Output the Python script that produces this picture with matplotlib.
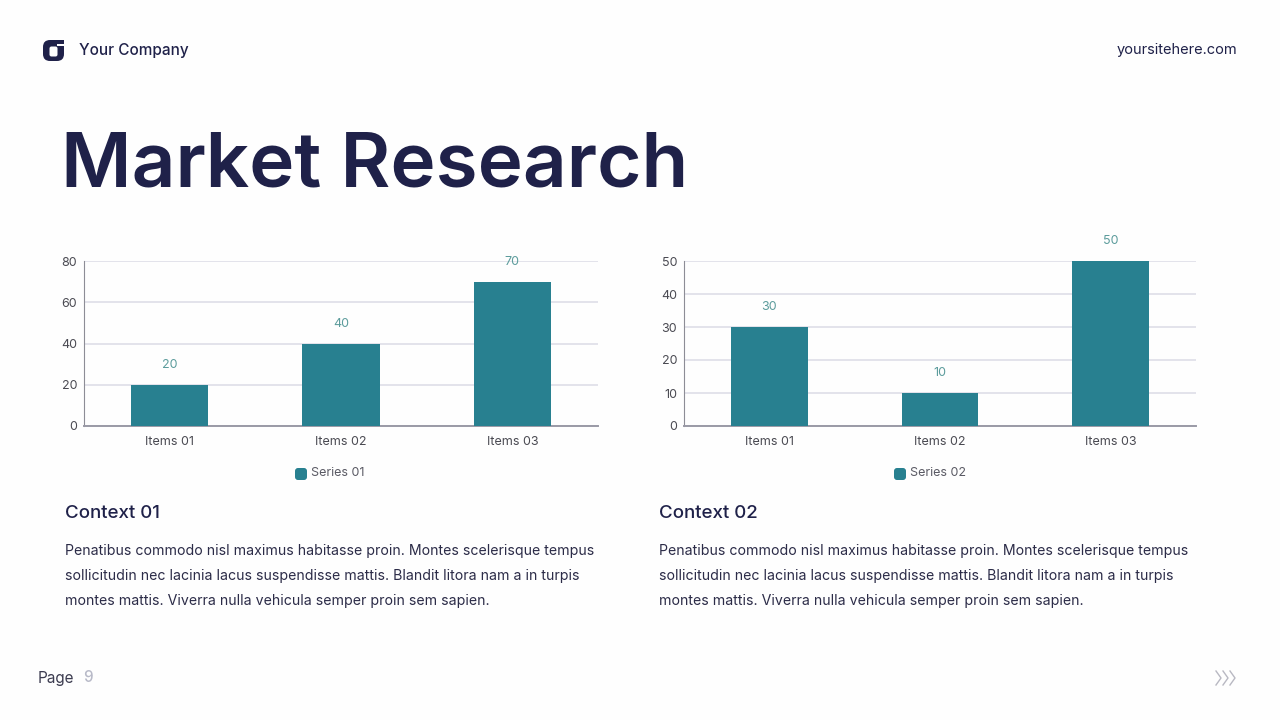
import matplotlib
matplotlib.use("Agg")
import matplotlib.pyplot as plt
from matplotlib.patches import FancyBboxPatch, Wedge, Rectangle

categories = ["Items 01", "Items 02", "Items 03"]
series_01 = [20, 40, 70]
series_02 = [30, 10, 50]
ticks_01 = [0, 20, 40, 60, 80]
ticks_02 = [0, 10, 20, 30, 40, 50]
body = ["Penatibus commodo nisl maximus habitasse proin. Montes scelerisque tempus",
        "sollicitudin nec lacinia lacus suspendisse mattis. Blandit litora nam a in turpis",
        "montes mattis. Viverra nulla vehicula semper proin sem sapien."]

NAVY = "#1f2149"
TEAL = "#288090"
W, H = 1280, 720

plt.rcParams["font.family"] = ["Inter", "DejaVu Sans"]
fig = plt.figure(figsize=(12.8, 7.2), dpi=100, facecolor="#fefefe")

# full page layer in pixel coordinates
page = fig.add_axes([0, 0, 1, 1])
page.set_xlim(0, W)
page.set_ylim(H, 0)
page.axis("off")


def draw_chart(left, right, values, ticks, name, legend_x):
    top, bottom = 261, 426
    ax = fig.add_axes([left / W, 1 - bottom / H, (right - left) / W, (bottom - top) / H])
    ax.set_facecolor("none")
    x = range(len(values))
    ax.bar(x, values, width=0.45, color=TEAL, zorder=3)
    ax.set_xlim(-0.5, 2.5)
    ax.set_ylim(0, ticks[-1])
    ax.set_yticks(ticks)
    ax.set_xticks(list(x), categories)
    ax.grid(axis="y", color="#dcdce6", lw=1.1, zorder=0)
    for s in ["top", "right"]:
        ax.spines[s].set_visible(False)
    ax.spines["left"].set_color("#8d8d96")
    ax.spines["left"].set_linewidth(0.8)
    ax.spines["bottom"].set_color("#9a9aa6")
    ax.spines["bottom"].set_linewidth(1.4)
    ax.tick_params(axis="both", length=0, labelsize=9, labelcolor="#4a4a52")
    ax.tick_params(axis="x", pad=7)
    ax.tick_params(axis="y", pad=5)
    for i, v in zip(x, values):
        ax.annotate(str(v), (i, v), xytext=(0, 10), textcoords="offset points",
                    ha="center", va="bottom", fontsize=9, color="#5c9c9c",
                    annotation_clip=False)
    # legend swatch and label
    page.add_patch(FancyBboxPatch((legend_x + 2, 470), 8, 8, boxstyle="round,pad=2,rounding_size=3",
                                  fc=TEAL, ec="none"))
    page.text(legend_x + 16, 473, name, fontsize=9, color="#5a5a64", va="center")


draw_chart(84, 598, series_01, ticks_01, "Series 01", 295)
draw_chart(684, 1196, series_02, ticks_02, "Series 02", 894)

# header
page.add_patch(FancyBboxPatch((46, 43), 15, 15, boxstyle="round,pad=3,rounding_size=7", fc=NAVY, ec="none"))
page.add_patch(FancyBboxPatch((50, 47), 7, 9, boxstyle="round,pad=0.5,rounding_size=2", fc="#fefefe", ec="none"))
page.add_patch(Rectangle((57, 40), 8, 6, fc="#fefefe", ec="none"))
page.add_patch(Rectangle((52, 40), 12, 3.5, fc=NAVY, ec="none"))
page.text(79, 50, "Your Company", fontsize=11, fontweight="medium", color=NAVY, va="center")
page.text(1237, 50, "yoursitehere.com", fontsize=10.5, color=NAVY, va="center", ha="right")

page.text(61, 167, "Market Research", fontsize=55, fontweight="semibold", color=NAVY, va="center")

# context blocks
for x0, title in [(65, "Context 01"), (659, "Context 02")]:
    page.text(x0, 514, title, fontsize=13.5, fontweight="medium", color=NAVY, va="center")
    for y0, line in zip([551, 576, 601], body):
        page.text(x0, y0, line, fontsize=10.2, color="#2c2c48", va="center")

# footer
page.text(38, 678, "Page", fontsize=11, color="#3c3c50", va="center")
page.text(83, 678, "9", fontsize=11, fontweight="medium", color="#b8bac8", va="center")
for dx in [1216, 1223, 1230]:
    page.plot([dx, dx + 5, dx], [671, 678, 685], color="#b8b8c2", lw=1)

fig.savefig("out.png", dpi=100, facecolor=fig.get_facecolor())
